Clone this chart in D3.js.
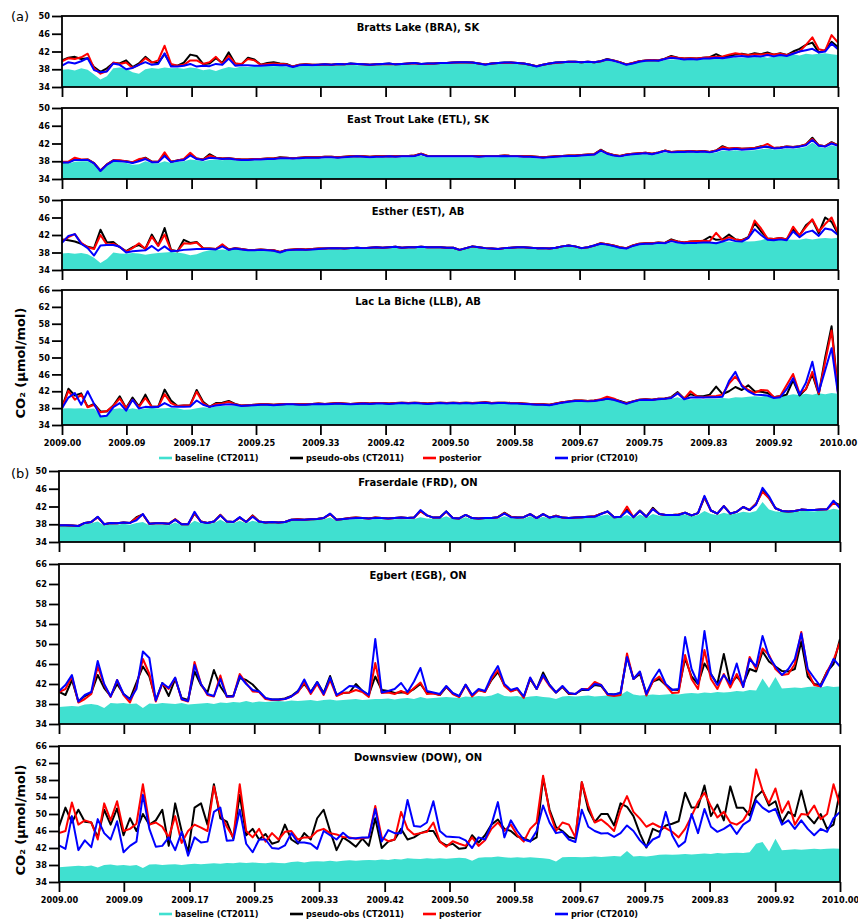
<!DOCTYPE html>
<html>
<head>
<meta charset="utf-8">
<script src="https://cdn.jsdelivr.net/npm/d3@7"></script>
<style>
  body { margin: 0; background: #fff; }
  svg { display: block; }
</style>
</head>
<body>
<svg id="chart" width="858" height="921"></svg>
<script>
// ---- Axis ticks and labels ----
const tickYears = [2009.000, 2009.083, 2009.167, 2009.250, 2009.333, 2009.417, 2009.500,
                   2009.583, 2009.667, 2009.750, 2009.833, 2009.917, 2010.000];
const tickYearLabels = ["2009.00", "2009.09", "2009.17", "2009.25", "2009.33", "2009.42", "2009.50",
                        "2009.58", "2009.67", "2009.75", "2009.83", "2009.92", "2010.00"];
const shortTicks = [34, 38, 42, 46, 50];
const tallTicks = [34, 38, 42, 46, 50, 54, 58, 62, 66];

// ---- CO2 series, sampled every ~3 days through 2009 (µmol/mol) ----
// Bratts Lake (BRA)
const braBaseline = [
37.9,38.0,37.7,38.2,37.9,36.8,35.7,36.4,38.2,38.4, 38.1,37.3,37.0,38.0,38.3,38.1,38.4,38.2,38.3,38.1,
38.4,38.2,37.8,38.0,37.6,38.1,38.5,38.3,38.6,38.5, 38.7,38.6,38.8,38.7,38.8,38.6,38.4,38.7,38.8,38.7,
38.8,38.9,38.8,38.9,38.9,39.0,38.9,38.9,38.8,38.9, 39.0,39.0,39.0,39.1,39.1,39.0,39.1,39.0,39.1,39.2,
39.3,39.3,39.4,39.4,39.3,39.1,38.9,39.1,39.2,39.3, 39.3,39.2,39.1,38.9,38.5,38.8,39.1,39.3,39.4,39.5,
39.5,39.4,39.5,39.4,39.6,40.0,39.7,39.3,38.9,39.2, 39.6,39.8,39.9,39.8,40.1,40.2,40.2,40.1,40.3,40.2,
40.4,40.4,40.5,40.4,40.6,40.7,40.6,40.8,40.7,40.9, 40.6,40.9,41.0,41.2,41.4,41.1,41.5,41.3,41.5,41.6,
41.4,41.2];
const braPseudoObs = [
40.0,40.6,40.8,40.3,40.5,38.5,37.4,38.2,39.4,39.3, 40.0,38.5,39.3,40.8,39.6,39.4,41.4,39.0,38.8,39.5,
41.3,41.0,39.2,39.3,40.5,39.4,41.8,39.3,39.1,40.6, 40.2,39.0,39.4,39.6,39.3,39.2,38.6,39.0,39.1,39.0,
39.0,39.1,39.0,39.2,39.1,39.3,39.2,39.1,39.0,39.1, 39.2,39.3,39.1,39.2,39.3,39.4,39.2,39.3,39.3,39.4,
39.4,39.5,39.6,39.6,39.5,39.3,39.1,39.3,39.4,39.5, 39.5,39.4,39.3,39.0,38.7,39.0,39.3,39.5,39.6,39.7,
39.7,39.6,39.7,39.6,39.8,40.3,40.0,39.6,39.1,39.4, 39.8,40.0,40.1,40.0,40.4,41.0,40.6,40.4,40.5,40.4,
40.6,40.7,41.4,40.7,41.0,41.3,41.5,41.2,41.6,41.4, 41.8,41.3,41.6,41.2,42.0,42.6,43.5,44.0,41.8,42.3,
44.2,43.0];
const braPosterior = [
39.8,40.5,40.3,40.7,41.5,38.2,37.0,37.6,39.5,39.2, 39.5,38.3,39.0,40.5,39.5,40.0,43.3,39.2,38.8,39.0,
40.0,40.0,39.2,39.6,40.8,39.2,41.0,39.3,39.2,40.3, 40.0,39.0,39.2,39.3,39.2,39.1,38.6,39.0,39.1,39.0,
39.0,39.1,39.0,39.1,39.1,39.2,39.2,39.1,39.0,39.1, 39.1,39.2,39.1,39.2,39.3,39.3,39.2,39.2,39.3,39.4,
39.4,39.5,39.6,39.5,39.5,39.3,39.1,39.3,39.4,39.4, 39.5,39.4,39.3,39.0,38.7,39.0,39.3,39.4,39.6,39.7,
39.7,39.6,39.7,39.6,39.8,40.2,40.0,39.6,39.1,39.4, 39.8,40.0,40.1,40.0,40.4,40.8,40.6,40.4,40.5,40.4,
40.6,40.7,40.8,40.9,41.3,41.6,41.4,41.2,41.4,41.3, 41.5,41.3,41.5,41.2,41.6,42.0,43.5,45.2,42.5,42.2,
45.7,44.0];
const braPrior = [
38.8,39.6,39.3,39.8,40.5,37.8,37.3,37.5,39.3,39.0, 38.0,38.3,39.0,39.6,39.0,39.2,41.6,38.6,38.6,38.8,
39.2,38.6,38.8,38.7,39.2,39.0,40.4,38.8,38.9,38.9, 38.8,38.8,38.9,39.0,38.9,38.9,38.5,38.9,39.0,38.9,
39.0,39.1,39.0,39.2,39.1,39.3,39.2,39.1,39.0,39.1, 39.2,39.3,39.1,39.2,39.3,39.4,39.2,39.3,39.3,39.4,
39.4,39.5,39.6,39.6,39.5,39.3,39.0,39.3,39.4,39.5, 39.5,39.4,39.3,39.0,38.6,39.0,39.3,39.5,39.6,39.7,
39.7,39.6,39.7,39.6,39.8,40.2,39.9,39.5,39.0,39.3, 39.7,39.9,40.0,39.9,40.3,40.6,40.4,40.2,40.3,40.2,
40.4,40.4,40.6,40.5,40.7,40.9,41.0,40.8,41.0,40.9, 41.2,40.9,41.2,41.0,41.5,42.0,42.3,42.6,41.8,42.0,
43.8,42.5];

// East Trout Lake (ETL)
const etlBaseline = [
37.6,37.5,37.9,38.0,38.0,37.3,35.7,36.9,37.9,37.8, 37.6,37.2,37.3,38.0,37.6,37.5,38.0,37.6,37.9,38.0,
38.4,38.2,38.0,38.3,38.4,38.2,38.4,38.2,38.1,38.1, 38.2,38.2,38.3,38.3,38.5,38.5,38.4,38.5,38.6,38.6,
38.6,38.7,38.7,38.6,38.7,38.8,38.9,38.8,38.7,38.8, 38.8,38.9,38.8,38.9,38.9,39.0,39.3,38.9,38.9,38.9,
38.9,38.9,38.9,38.9,38.9,38.8,38.9,38.9,38.9,39.0, 38.9,38.9,38.8,38.8,38.7,38.6,38.7,38.8,38.9,39.0,
39.0,39.1,39.2,39.3,40.1,39.5,39.1,38.9,39.2,39.4, 39.5,39.6,39.4,39.7,40.0,39.8,39.9,39.9,40.0,39.9,
40.0,39.8,40.0,40.4,40.3,40.5,40.3,40.4,40.5,40.7, 40.9,40.6,40.7,40.9,40.8,41.0,41.2,42.2,41.2,41.0,
41.6,41.2];
const etlPseudoObs = [
37.8,37.8,38.5,38.3,38.4,37.6,35.9,37.3,38.2,38.1, 38.0,37.7,38.3,38.8,37.9,37.9,39.4,37.9,38.2,38.4,
39.5,38.6,38.4,39.6,38.8,38.6,38.7,38.5,38.4,38.4, 38.5,38.5,38.6,38.6,38.9,38.8,38.7,38.8,38.9,38.9,
38.9,39.0,39.0,38.9,39.0,39.1,39.2,39.1,39.0,39.1, 39.1,39.2,39.1,39.2,39.2,39.3,39.7,39.2,39.2,39.2,
39.2,39.2,39.2,39.2,39.2,39.1,39.2,39.2,39.2,39.3, 39.2,39.2,39.1,39.1,39.0,38.9,39.0,39.1,39.2,39.3,
39.3,39.4,39.5,39.6,40.6,39.8,39.4,39.2,39.5,39.7, 39.8,39.9,39.7,40.0,40.4,40.1,40.2,40.2,40.3,40.2,
40.3,40.1,40.4,41.4,40.8,41.0,40.8,40.9,41.0,41.4, 41.2,41.0,41.1,41.3,41.2,41.4,41.8,43.3,41.6,41.4,
42.3,41.6];
const etlPosterior = [
37.9,37.9,38.8,38.4,38.4,37.6,35.9,37.3,38.2,38.2, 38.0,37.8,38.5,38.7,37.9,37.9,40.0,37.9,38.2,38.5,
39.9,38.6,38.4,39.3,38.8,38.6,38.7,38.5,38.4,38.4, 38.5,38.5,38.6,38.6,38.8,38.8,38.7,38.8,38.9,38.9,
38.9,39.0,39.0,38.9,39.0,39.1,39.2,39.1,39.0,39.1, 39.1,39.2,39.1,39.2,39.2,39.3,39.7,39.2,39.2,39.2,
39.2,39.2,39.2,39.2,39.2,39.1,39.2,39.2,39.2,39.3, 39.2,39.2,39.1,39.1,39.0,38.9,39.0,39.1,39.2,39.3,
39.3,39.4,39.5,39.6,40.5,39.8,39.4,39.2,39.5,39.7, 39.8,39.9,39.7,40.0,40.4,40.1,40.2,40.2,40.3,40.2,
40.3,40.1,40.4,41.2,40.9,41.0,40.8,40.9,41.0,41.3, 41.9,41.0,41.1,41.3,41.2,41.4,41.8,43.0,41.6,41.4,
42.2,41.6];
const etlPrior = [
37.7,37.7,38.3,38.3,38.3,37.5,35.8,37.2,38.1,38.0, 37.9,37.6,38.0,38.5,37.8,37.8,39.2,37.8,38.1,38.3,
39.3,38.5,38.3,38.8,38.7,38.5,38.6,38.4,38.3,38.3, 38.4,38.4,38.5,38.5,38.7,38.7,38.6,38.7,38.8,38.8,
38.8,38.9,38.9,38.8,38.9,39.0,39.1,39.0,38.9,39.0, 39.0,39.1,39.0,39.1,39.1,39.2,39.6,39.1,39.1,39.1,
39.1,39.1,39.1,39.1,39.1,39.0,39.1,39.1,39.1,39.2, 39.1,39.1,39.0,39.0,38.9,38.8,38.9,39.0,39.1,39.2,
39.2,39.3,39.4,39.5,40.4,39.7,39.3,39.1,39.4,39.6, 39.7,39.8,39.6,39.9,40.3,40.0,40.1,40.1,40.2,40.1,
40.2,40.0,40.3,40.8,40.6,40.8,40.6,40.7,40.8,41.1, 41.3,40.9,41.0,41.2,41.1,41.3,41.6,42.8,41.5,41.3,
42.0,41.5];

// Esther (EST)
const estBaseline = [
37.8,37.9,37.7,37.9,37.6,36.8,35.6,36.5,38.0,37.8, 37.7,37.9,37.8,37.5,37.7,37.9,38.0,38.1,38.0,37.8,
37.4,37.6,38.2,38.5,38.6,38.7,38.5,38.8,38.6,38.4, 38.4,38.5,38.4,38.3,37.9,38.4,38.5,38.6,38.5,38.6,
38.7,38.7,38.8,38.8,38.7,38.8,38.9,38.8,38.9,39.0, 38.9,39.0,39.1,38.9,39.0,39.0,39.1,39.0,39.0,39.0,
38.9,38.9,38.4,38.8,39.2,39.0,38.8,38.7,38.6,38.8, 38.9,39.0,39.0,38.9,38.8,38.8,38.7,38.9,39.2,39.4,
39.2,38.8,39.0,39.4,39.9,39.7,39.4,39.0,38.8,39.4, 39.8,39.9,39.9,40.0,39.9,40.3,40.1,40.0,40.2,40.2,
40.2,40.3,40.3,40.4,40.5,40.4,40.6,40.5,40.6,40.8, 41.3,41.0,40.9,41.0,40.9,40.9,41.2,41.0,41.2,41.3,
41.2,41.4];
const estPseudoObs = [
41.0,40.8,40.5,40.0,39.3,39.0,43.2,40.3,40.4,39.2, 38.3,39.2,39.7,38.9,42.1,39.6,43.6,38.6,38.3,40.9,
40.2,40.4,39.0,38.9,38.8,39.7,38.7,39.0,38.8,38.6, 38.6,38.7,38.6,38.5,38.1,38.6,38.7,38.8,38.7,38.8,
38.9,38.9,39.0,39.0,38.9,39.0,39.1,39.0,39.1,39.2, 39.1,39.2,39.3,39.1,39.2,39.2,39.3,39.2,39.2,39.2,
39.1,39.1,38.6,39.0,39.4,39.2,39.0,38.9,38.8,39.0, 39.1,39.2,39.2,39.1,39.0,39.0,38.9,39.1,39.4,39.6,
39.4,39.0,39.2,39.6,40.1,39.9,39.6,39.2,39.0,39.6, 40.0,40.1,40.1,40.3,40.2,41.0,40.5,40.3,40.5,40.6,
40.7,41.6,40.9,41.0,42.1,41.0,40.8,41.5,44.7,42.8, 41.2,41.1,41.3,41.0,43.2,41.9,44.2,45.4,42.4,46.0,
45.0,42.2];
const estPosterior = [
40.5,41.5,42.2,40.2,39.2,38.8,42.0,39.8,40.0,39.3, 38.2,39.0,40.1,38.8,41.6,39.5,42.1,38.5,38.3,40.1,
40.0,40.3,39.0,38.9,38.8,39.9,38.7,39.0,38.8,38.6, 38.6,38.7,38.6,38.5,38.1,38.6,38.7,38.8,38.7,38.8,
38.9,38.9,39.0,39.0,38.9,39.0,39.1,39.0,39.1,39.2, 39.1,39.2,39.3,39.1,39.2,39.2,39.3,39.2,39.2,39.2,
39.1,39.1,38.6,39.0,39.4,39.2,39.0,38.9,38.8,39.0, 39.1,39.2,39.2,39.1,39.0,39.0,38.9,39.1,39.4,39.6,
39.4,39.0,39.2,39.6,40.1,39.9,39.6,39.2,39.0,39.6, 40.0,40.1,40.1,40.3,40.2,40.8,40.5,40.3,40.5,40.6,
40.7,40.6,42.5,40.8,41.5,41.0,40.8,41.3,45.3,43.5, 41.2,41.1,41.3,41.0,43.9,41.9,43.8,45.6,42.8,44.5,
46.0,42.5];
const estPrior = [
40.2,41.8,42.2,40.0,39.0,37.3,39.6,39.7,39.7,39.3, 38.0,38.3,38.4,38.5,39.5,38.4,39.4,38.3,38.4,38.6,
38.7,38.8,38.8,38.8,38.7,39.4,38.6,38.9,38.7,38.5, 38.5,38.6,38.5,38.4,38.0,38.5,38.6,38.7,38.6,38.7,
38.8,38.9,39.0,39.0,38.9,39.0,39.1,39.0,39.1,39.2, 39.1,39.2,39.3,39.1,39.2,39.2,39.3,39.2,39.2,39.2,
39.1,39.1,38.6,39.0,39.4,39.2,39.0,38.9,38.8,39.0, 39.1,39.2,39.2,39.1,39.0,39.0,38.9,39.1,39.4,39.6,
39.4,39.0,39.2,39.6,40.0,39.8,39.5,39.1,38.9,39.5, 39.9,40.0,40.0,40.2,40.1,40.6,40.3,40.1,40.2,40.2,
40.3,40.3,40.1,40.5,41.0,40.6,40.5,41.3,43.3,42.0, 40.9,40.8,41.0,40.8,42.8,41.5,42.6,43.0,41.8,43.5,
43.2,42.0];

// Lac La Biche (LLB)
const llbBaseline = [
37.9,38.0,37.9,38.0,37.8,37.9,36.2,36.4,37.8,38.0, 37.6,38.0,37.7,37.9,38.1,37.9,38.0,38.1,38.0,37.6,
37.7,38.0,38.2,38.1,38.4,38.5,38.5,38.6,38.4,38.5, 38.6,38.7,38.7,38.6,38.7,38.8,38.8,38.7,38.7,38.8,
38.9,38.8,38.9,39.0,38.9,38.8,38.9,39.0,38.9,39.0, 39.0,38.9,39.0,39.1,39.0,39.1,39.0,38.9,39.0,39.1,
39.0,39.1,39.0,39.1,39.0,39.1,39.2,39.0,39.1,39.1, 39.0,39.0,38.9,38.8,38.7,38.7,38.6,38.9,39.2,39.4,
39.6,39.6,39.5,39.6,39.8,40.0,39.9,39.4,38.9,39.4, 39.8,39.9,39.8,40.0,40.1,40.2,40.6,40.0,40.1,40.2,
40.1,40.3,40.2,40.4,40.3,40.6,40.5,40.7,40.8,40.7, 41.0,40.9,41.1,41.0,41.3,41.1,41.4,41.2,41.5,41.3,
41.6,41.4];
const llbPseudoObs = [
38.2,42.6,41.0,41.5,38.3,39.0,37.2,37.2,38.6,40.8, 38.0,40.5,38.4,41.2,38.3,38.3,42.4,39.8,38.5,38.6,
38.7,42.3,39.5,38.3,39.2,39.3,39.7,39.0,38.6,38.7, 38.8,38.9,38.9,38.8,38.9,39.0,39.0,38.9,38.9,39.0,
39.1,39.0,39.1,39.2,39.1,39.0,39.1,39.2,39.1,39.2, 39.2,39.1,39.2,39.3,39.2,39.3,39.2,39.1,39.2,39.3,
39.2,39.3,39.2,39.3,39.2,39.3,39.4,39.2,39.3,39.3, 39.2,39.2,39.1,39.0,38.9,38.9,38.8,39.1,39.4,39.6,
39.8,39.8,39.7,39.8,40.0,40.2,40.1,39.7,39.2,39.6, 40.0,40.1,40.0,40.2,40.3,40.6,41.8,40.3,41.3,40.9,
40.8,41.2,43.1,41.3,42.0,43.0,42.3,43.4,42.0,41.9, 41.6,40.6,40.8,41.2,44.6,41.0,42.5,46.0,41.3,50.0,
57.4,41.8];
const llbPosterior = [
38.0,42.1,40.0,41.2,38.2,38.8,37.0,37.3,38.5,40.3, 38.0,40.0,38.3,40.4,38.3,38.3,41.3,39.2,38.5,38.6,
38.7,41.9,39.2,38.3,39.0,39.1,39.5,38.9,38.6,38.7, 38.8,38.9,38.9,38.8,38.9,39.0,39.0,38.9,38.9,39.0,
39.1,39.0,39.1,39.2,39.1,39.0,39.1,39.2,39.1,39.2, 39.2,39.1,39.2,39.3,39.2,39.3,39.2,39.1,39.2,39.3,
39.2,39.3,39.2,39.3,39.2,39.3,39.4,39.2,39.3,39.3, 39.2,39.2,39.1,39.0,38.9,38.9,38.8,39.1,39.4,39.6,
39.8,39.8,39.7,39.8,40.1,40.7,40.3,39.6,39.1,39.6, 40.0,40.1,40.0,40.2,40.3,40.5,41.6,40.2,42.0,40.8,
40.6,40.8,40.9,41.2,43.8,45.5,43.5,42.3,41.6,42.3, 42.2,40.6,40.9,43.5,46.1,41.5,42.5,46.6,41.4,49.0,
56.4,41.8];
const llbPrior = [
38.0,40.5,41.6,38.8,42.0,39.0,36.0,36.2,38.2,39.2, 37.4,40.0,37.9,38.3,38.2,38.3,39.2,38.4,38.3,38.3,
38.4,39.8,38.8,38.3,38.6,38.8,38.9,38.8,38.5,38.6, 38.7,38.8,38.8,38.7,38.8,38.9,38.9,38.8,38.8,38.9,
39.0,38.9,39.0,39.1,39.0,38.9,39.0,39.1,39.0,39.1, 39.1,39.0,39.1,39.2,39.1,39.2,39.1,39.0,39.1,39.2,
39.1,39.2,39.1,39.2,39.1,39.2,39.3,39.1,39.2,39.2, 39.1,39.1,39.0,38.9,38.8,38.8,38.7,39.0,39.3,39.5,
39.7,39.7,39.6,39.7,39.9,40.2,40.0,39.5,39.0,39.5, 39.9,40.0,39.9,40.1,40.2,40.4,41.5,40.1,40.5,40.6,
40.5,40.6,40.6,40.7,44.4,46.6,43.2,42.0,41.2,41.1, 41.0,40.4,40.6,42.5,45.1,41.2,44.0,49.0,41.8,47.0,
52.2,41.4];

// Fraserdale (FRD)
const frdBaseline = [
37.6,37.7,37.5,37.4,38.0,38.2,38.6,37.7,38.0,37.9, 38.1,37.9,38.3,38.5,37.8,37.9,37.9,37.8,38.4,37.8,
37.8,38.8,38.2,38.1,38.3,39.0,38.3,38.2,38.8,38.2, 38.8,38.4,38.2,38.3,38.2,38.3,38.8,38.9,38.8,38.9,
39.0,39.1,39.5,38.8,39.0,39.1,39.2,39.1,39.0,39.2, 39.1,39.0,39.1,39.2,39.1,39.2,39.6,39.3,39.3,39.3,
39.8,39.2,39.1,39.6,39.2,39.1,39.2,39.2,39.3,39.8, 39.4,39.3,39.3,39.8,39.2,39.7,39.3,39.6,39.3,39.2,
39.3,39.4,39.5,39.5,39.9,40.2,39.4,39.5,40.1,39.4, 40.2,39.5,40.3,39.9,39.9,39.9,40.0,40.2,39.8,40.1,
41.0,40.3,40.1,40.6,40.2,40.4,40.8,40.6,41.0,43.0, 41.3,40.9,40.8,40.7,40.8,41.0,41.0,40.9,41.1,41.1,
41.5,41.2];
const frdPseudoObs = [
37.8,37.8,37.7,37.6,38.3,38.5,39.6,38.0,38.3,38.2, 38.4,38.3,39.6,40.2,38.1,38.2,38.2,38.1,39.1,38.0,
38.0,40.4,38.6,38.3,38.6,40.1,38.6,38.5,39.5,38.5, 40.0,38.6,38.4,38.5,38.4,38.5,39.0,39.1,39.0,39.1,
39.2,39.4,40.3,39.0,39.2,39.4,39.5,39.4,39.3,39.5, 39.4,39.3,39.4,39.5,39.4,39.5,41.0,40.0,39.5,39.5,
40.9,39.4,39.3,40.1,39.4,39.3,39.4,39.4,39.6,40.6, 39.7,39.5,39.6,40.3,39.4,40.3,39.5,39.9,39.5,39.4,
39.5,39.6,39.7,39.8,40.4,40.9,39.6,39.7,41.3,39.6, 41.1,39.7,41.7,40.3,40.1,40.1,40.2,40.6,40.0,40.5,
44.0,41.1,40.4,42.1,40.4,40.8,41.9,41.2,42.6,45.6, 43.9,41.6,41.0,40.9,41.0,41.3,41.2,41.2,41.3,41.4,
43.0,42.3];
const frdPosterior = [
37.8,37.8,37.7,37.6,38.3,38.5,39.6,38.0,38.3,38.2, 38.4,38.3,39.4,40.2,38.1,38.2,38.2,38.1,39.1,38.0,
38.0,40.5,38.6,38.3,38.6,40.1,38.6,38.5,39.5,38.5, 39.9,38.6,38.4,38.5,38.4,38.5,39.0,39.1,39.0,39.1,
39.2,39.4,40.3,39.0,39.2,39.4,39.5,39.4,39.3,39.5, 39.4,39.3,39.4,39.5,39.4,39.5,40.9,40.0,39.5,39.5,
40.8,39.4,39.3,40.1,39.4,39.3,39.4,39.4,39.6,40.5, 39.7,39.5,39.6,40.3,39.4,40.3,39.5,39.9,39.5,39.4,
39.5,39.6,39.7,39.8,40.4,40.8,39.6,39.7,42.0,39.6, 41.0,39.7,41.5,40.3,40.1,40.1,40.2,40.6,40.0,40.5,
44.2,41.1,40.4,42.1,40.4,40.8,41.9,41.2,42.6,45.3, 43.9,41.6,41.0,40.9,41.0,41.3,41.2,41.2,41.3,41.4,
42.8,42.1];
const frdPrior = [
37.8,37.8,37.7,37.6,38.3,38.5,39.7,38.0,38.3,38.2, 38.4,38.3,38.9,40.3,38.1,38.2,38.2,38.1,39.0,38.0,
38.0,40.8,38.5,38.3,38.6,40.0,38.6,38.5,39.6,38.5, 39.7,38.6,38.4,38.5,38.4,38.5,39.0,39.0,39.0,39.1,
39.2,39.4,40.4,39.0,39.2,39.3,39.4,39.4,39.3,39.4, 39.4,39.3,39.4,39.5,39.4,39.5,41.2,40.0,39.5,39.5,
40.9,39.4,39.3,40.1,39.4,39.3,39.4,39.4,39.6,40.4, 39.6,39.5,39.6,40.3,39.4,40.3,39.5,39.8,39.5,39.4,
39.5,39.6,39.7,39.7,40.3,40.9,39.6,39.7,41.0,39.6, 41.0,39.7,41.4,40.3,40.1,40.1,40.1,40.6,40.0,40.5,
44.4,41.1,40.4,42.1,40.4,40.8,41.9,41.2,42.4,46.2, 44.3,41.6,41.0,40.9,41.0,41.3,41.2,41.2,41.3,41.4,
43.3,41.6];

// Egbert (EGB)
const egbBaseline = [
37.4,37.5,37.6,37.5,37.9,38.0,37.8,37.2,38.2,38.1, 38.2,38.0,38.1,37.2,38.1,38.0,38.2,38.1,38.0,38.2,
37.9,38.0,38.1,38.2,38.0,38.3,38.2,38.4,38.3,38.6, 38.3,38.5,38.4,38.5,38.6,38.5,38.7,38.6,38.7,38.8,
38.6,38.8,38.9,38.7,38.8,38.9,39.0,38.8,38.9,39.0, 39.0,39.1,38.9,39.1,39.2,39.0,39.4,39.1,39.2,39.3,
39.4,39.3,39.2,39.5,39.4,39.6,39.5,39.7,40.2,39.6, 39.5,39.6,39.3,39.5,39.6,39.4,39.3,39.0,39.5,39.6,
39.5,39.6,39.7,39.5,39.6,39.7,39.8,39.8,40.6,39.9, 39.7,39.8,39.9,39.8,39.9,40.0,39.9,40.1,40.2,40.1,
40.3,40.2,40.4,40.3,40.4,40.6,40.5,40.8,40.7,43.1, 41.2,43.4,41.1,41.2,41.3,41.2,41.4,41.5,41.3,41.6,
41.4,41.5];
const egbPseudoObs = [
40.4,39.8,42.8,38.5,39.6,40.2,43.8,41.2,39.6,42.0, 40.0,39.0,42.3,45.5,43.5,38.8,42.2,39.6,43.0,39.2,
38.8,44.5,41.8,40.3,44.8,41.5,39.6,39.6,43.2,42.8, 41.9,40.5,39.1,38.9,38.9,39.1,39.6,40.6,42.0,40.4,
42.4,40.2,43.6,39.8,40.2,40.3,42.0,40.6,39.8,43.5, 40.8,40.6,40.2,40.3,40.3,41.0,42.0,40.2,40.2,39.8,
41.4,40.1,39.5,41.8,39.7,40.8,40.5,42.8,44.4,41.8, 40.6,41.0,39.4,43.0,41.0,44.3,41.8,40.3,41.4,40.0,
40.0,40.8,40.8,41.8,41.6,40.0,39.9,40.2,47.5,43.0, 44.0,40.1,42.5,43.0,41.8,40.9,40.8,47.1,43.5,42.0,
46.1,44.0,42.0,48.0,42.0,43.5,42.0,45.0,44.5,48.5, 46.5,45.5,44.6,44.5,45.0,50.5,43.5,42.0,41.8,44.5,
46.0,51.0];
const egbPosterior = [
40.4,41.0,43.5,38.3,39.0,40.0,45.5,41.8,39.4,42.8, 39.8,38.3,41.5,47.0,44.0,38.5,42.0,41.0,43.2,38.9,
38.5,46.4,42.0,39.8,39.5,43.7,39.4,39.5,44.0,42.2, 40.5,40.4,39.0,38.8,38.8,39.0,39.5,40.3,42.3,40.0,
42.0,39.8,42.8,39.6,40.2,40.3,40.8,40.4,39.4,46.2, 40.2,40.3,40.0,40.6,40.0,41.2,42.3,40.0,40.1,39.8,
41.5,40.0,39.4,41.8,39.5,40.8,40.4,43.0,44.8,41.6, 40.5,41.0,39.2,43.2,41.0,43.5,41.6,40.3,41.5,40.1,
40.0,41.0,41.0,42.4,41.8,39.8,39.6,39.8,48.1,43.0, 44.4,39.7,42.5,43.5,41.8,40.2,40.3,47.8,43.0,41.0,
48.8,43.0,41.0,44.0,41.3,44.0,41.4,47.4,45.0,49.1, 47.8,45.0,43.8,44.0,46.0,52.4,44.5,41.8,41.5,44.5,
46.8,50.4];
const egbPrior = [
40.6,41.8,43.8,38.5,39.8,40.4,46.6,42.0,39.5,42.8, 40.0,38.9,41.0,48.5,47.2,38.7,42.2,41.2,43.3,39.0,
38.6,45.8,42.0,40.0,39.6,43.0,39.5,39.5,43.6,42.0, 40.8,40.5,39.2,38.9,38.9,39.0,39.5,40.5,42.9,40.3,
42.4,40.0,43.3,39.8,40.6,41.6,41.5,40.7,39.8,51.0, 40.3,40.6,41.0,42.2,40.4,42.5,45.2,40.6,40.3,40.0,
41.6,40.2,39.6,41.9,39.8,41.0,40.6,43.5,45.6,42.0, 40.8,41.2,39.5,43.3,41.0,43.8,41.8,40.3,41.6,40.2,
40.0,41.0,40.8,42.0,41.8,40.0,39.9,40.2,47.4,43.0, 44.5,40.0,42.9,44.9,42.0,40.8,41.0,51.4,45.0,42.1,
52.6,44.0,41.8,43.8,42.0,46.1,41.4,47.0,45.5,51.6, 47.5,45.5,43.8,45.0,47.0,52.1,45.0,43.2,41.5,44.0,
47.0,45.5];

// Downsview (DOW)
const dowBaseline = [
37.5,37.6,37.7,37.8,37.7,37.9,37.4,38.0,38.1,37.9, 38.0,37.8,38.0,37.3,38.1,38.2,38.0,38.1,38.2,38.0,
38.2,38.3,38.2,38.3,38.4,38.3,38.5,38.4,38.6,38.5, 38.6,38.5,38.4,38.6,38.5,38.4,38.7,38.8,38.6,38.8,
38.9,38.8,39.0,38.8,39.0,39.1,39.0,39.1,39.2,39.1, 39.3,39.2,39.4,39.3,39.6,39.5,39.4,39.6,39.5,39.6,
39.5,39.6,39.7,39.6,39.0,39.7,39.8,39.8,40.0,39.8, 39.7,39.8,39.7,39.8,39.7,39.6,39.4,38.8,39.8,39.9,
39.9,39.8,39.9,40.0,39.9,40.0,40.1,40.0,41.3,40.0, 40.1,40.0,40.2,40.4,40.5,40.4,40.5,40.6,40.5,40.6,
40.7,40.6,40.8,40.7,40.8,40.9,40.8,41.0,43.0,43.4, 41.2,44.2,41.5,41.6,41.7,41.6,41.7,41.8,41.7,41.8,
41.9,41.8];
const dowPseudoObs = [
47.0,51.5,48.0,51.0,48.2,48.0,44.5,51.0,47.5,51.3, 45.0,49.0,46.0,50.0,47.5,48.5,51.0,42.5,52.5,46.0,
41.0,51.5,52.5,47.5,57.0,49.0,48.2,44.2,54.5,45.0, 46.5,44.0,45.3,43.0,43.5,47.5,44.0,43.0,45.5,44.0,
49.0,51.0,46.0,41.5,44.5,43.5,42.3,44.2,42.5,49.0, 42.0,43.5,44.0,46.5,44.0,44.5,45.5,46.0,46.0,43.5,
42.6,43.0,41.8,42.0,45.0,43.3,45.0,47.5,48.7,46.5, 46.0,44.7,44.3,43.6,44.5,58.5,51.0,46.9,46.0,44.6,
44.2,57.5,51.0,48.1,50.0,50.0,47.3,52.5,51.7,49.5, 45.4,42.1,46.5,45.8,47.3,47.7,48.3,55.0,51.5,51.6,
56.7,49.5,52.2,48.5,56.5,51.5,51.5,49.7,54.0,55.5, 52.0,53.0,48.0,50.5,49.5,55.5,49.5,47.8,50.0,46.5,
47.5,55.5];
const dowPosterior = [
45.5,46.0,52.7,47.5,48.5,48.0,44.0,52.5,48.5,53.0, 46.0,46.5,47.7,57.0,47.5,48.0,47.0,44.5,49.5,43.2,
46.0,47.5,46.8,46.0,56.5,50.0,47.0,44.5,57.0,46.0, 44.5,46.5,43.5,45.5,44.0,45.8,46.0,44.0,44.5,44.5,
46.0,46.5,45.5,45.2,44.6,44.5,44.2,44.3,44.5,51.9, 44.5,43.6,44.0,50.5,46.5,45.2,45.5,45.8,48.0,43.5,
42.3,43.6,43.0,42.5,44.5,42.5,43.8,46.5,48.0,46.0, 47.5,45.0,43.5,46.5,48.0,59.0,50.5,46.0,48.0,47.5,
44.5,57.5,52.0,48.0,48.7,47.5,46.0,51.0,54.2,50.5, 48.9,47.0,47.8,47.0,46.7,45.8,44.5,46.5,49.5,52.8,
55.0,51.8,49.2,50.5,48.0,47.5,48.5,51.0,60.5,55.5, 52.5,56.0,50.3,53.0,47.5,50.0,49.8,52.0,48.8,50.0,
57.0,52.0];
const dowPrior = [
42.6,41.8,49.5,41.5,43.8,42.2,48.8,45.5,44.0,48.3, 41.0,42.5,43.5,54.5,46.5,42.3,42.5,44.5,41.5,45.8,
40.2,44.5,43.3,43.5,50.5,51.5,43.7,43.8,51.0,43.0, 41.0,44.0,44.0,42.0,41.8,42.6,45.5,43.3,43.3,43.0,
41.8,46.0,45.0,44.0,45.6,44.3,44.3,44.5,44.5,51.2, 43.5,46.2,45.5,45.5,53.3,47.2,47.0,48.0,53.0,46.0,
44.7,44.6,44.5,43.8,42.0,44.5,44.0,47.5,52.8,44.5, 48.5,46.0,44.0,43.5,46.0,52.0,48.0,45.5,45.8,44.0,
43.4,51.0,47.0,46.0,45.4,45.5,44.6,45.5,47.3,46.0, 43.8,42.3,44.0,44.7,50.5,45.0,42.3,43.5,50.0,45.5,
51.2,47.0,45.8,46.5,47.5,45.3,47.5,48.5,53.2,51.5, 50.5,51.2,47.5,48.5,46.5,48.5,46.5,45.0,46.5,45.8,
49.0,50.5];

// ---- Layout ----
const FONT = '"DejaVu Sans", Verdana, sans-serif';
const TURQ = "#40E0D0";
const svg = d3.select("#chart");
const defs = svg.append("defs");

const stations = [
  { title: "Bratts Lake (BRA), SK", base: braBaseline, obs: braPseudoObs, post: braPosterior, prior: braPrior,
    ticks: shortTicks, top: 16, bottom: 87, left: 62, right: 838, labels: false },
  { title: "East Trout Lake (ETL), SK", base: etlBaseline, obs: etlPseudoObs, post: etlPosterior, prior: etlPrior,
    ticks: shortTicks, top: 108, bottom: 179, left: 62, right: 838, labels: false },
  { title: "Esther (EST), AB", base: estBaseline, obs: estPseudoObs, post: estPosterior, prior: estPrior,
    ticks: shortTicks, top: 200, bottom: 270, left: 62, right: 838, labels: false },
  { title: "Lac La Biche (LLB), AB", base: llbBaseline, obs: llbPseudoObs, post: llbPosterior, prior: llbPrior,
    ticks: tallTicks, top: 290, bottom: 425, left: 62, right: 838, labels: true },
  { title: "Fraserdale (FRD), ON", base: frdBaseline, obs: frdPseudoObs, post: frdPosterior, prior: frdPrior,
    ticks: shortTicks, top: 471, bottom: 542, left: 59, right: 840, labels: false },
  { title: "Egbert (EGB), ON", base: egbBaseline, obs: egbPseudoObs, post: egbPosterior, prior: egbPrior,
    ticks: tallTicks, top: 564, bottom: 724, left: 59, right: 840, labels: false },
  { title: "Downsview (DOW), ON", base: dowBaseline, obs: dowPseudoObs, post: dowPosterior, prior: dowPrior,
    ticks: tallTicks, top: 746, bottom: 882, left: 59, right: 840, labels: true }
];

// sample index -> decimal year (samples evenly spread over 2009)
const yearOf = (i, n) => 2009 + i / (n - 1);

function styleAxis(sel) {
  sel.select(".domain").remove();
  sel.selectAll(".tick line").attr("stroke", "#000").attr("stroke-width", 1.8);
  sel.selectAll(".tick text")
    .attr("font-family", FONT).attr("font-weight", "bold")
    .attr("font-size", 8.2).attr("fill", "#000");
}

stations.forEach((s, k) => {
  const yMax = s.ticks[s.ticks.length - 1];
  const x = d3.scaleLinear().domain([2009, 2010]).range([s.left, s.right]);
  const y = d3.scaleLinear().domain([34, yMax]).range([s.bottom, s.top]);
  const g = svg.append("g");

  const clipId = "plot-clip-" + k;
  defs.append("clipPath").attr("id", clipId).append("rect")
    .attr("x", s.left).attr("y", s.top)
    .attr("width", s.right - s.left).attr("height", s.bottom - s.top);
  const plot = g.append("g").attr("clip-path", `url(#${clipId})`);

  // baseline as filled area
  plot.append("path").datum(s.base)
    .attr("fill", TURQ)
    .attr("d", d3.area()
      .x((d, i, arr) => x(yearOf(i, s.base.length)))
      .y0(y(34)).y1(d => y(d)));

  // pseudo-obs, posterior, prior lines
  [[s.obs, "#000000"], [s.post, "#ff0000"], [s.prior, "#0000ff"]].forEach(([series, color]) => {
    plot.append("path").datum(series)
      .attr("fill", "none").attr("stroke", color)
      .attr("stroke-width", 2).attr("stroke-linejoin", "round")
      .attr("d", d3.line()
        .x((d, i) => x(yearOf(i, series.length)))
        .y(d => y(d)));
  });

  // axes
  const ya = g.append("g").attr("transform", `translate(${s.left},0)`)
    .call(d3.axisLeft(y).tickValues(s.ticks).tickSize(10).tickPadding(2).tickFormat(d3.format("d")));
  styleAxis(ya);

  const xa = g.append("g").attr("transform", `translate(0,${s.bottom})`)
    .call(d3.axisBottom(x).tickValues(tickYears).tickSize(10).tickPadding(5)
      .tickFormat((d, i) => s.labels ? tickYearLabels[i] : ""));
  styleAxis(xa);

  // frame
  g.append("rect")
    .attr("x", s.left).attr("y", s.top)
    .attr("width", s.right - s.left).attr("height", s.bottom - s.top)
    .attr("fill", "none").attr("stroke", "#000").attr("stroke-width", 1.8);

  // station title
  g.append("text")
    .attr("x", 418).attr("y", s.top + 14.5)
    .attr("text-anchor", "middle")
    .attr("font-family", FONT).attr("font-weight", "bold").attr("font-size", 10)
    .text(s.title);
});

// ---- Legends ----
const legendItems = [
  { label: "baseline (CT2011)", color: TURQ, x: 159 },
  { label: "pseudo-obs (CT2011)", color: "#000000", x: 290 },
  { label: "posterior", color: "#ff0000", x: 423 },
  { label: "prior (CT2010)", color: "#0000ff", x: 555 }
];
[458, 914].forEach(cy => {
  const lg = svg.append("g");
  legendItems.forEach(it => {
    lg.append("line")
      .attr("x1", it.x).attr("x2", it.x + 13)
      .attr("y1", cy).attr("y2", cy)
      .attr("stroke", it.color).attr("stroke-width", 2.6);
    lg.append("text")
      .attr("x", it.x + 16).attr("y", cy + 3)
      .attr("font-family", FONT).attr("font-weight", "bold").attr("font-size", 8.2)
      .text(it.label);
  });
});

// ---- Group labels ----
[["(a)", 11, 21], ["(b)", 11, 478]].forEach(([t, px, py]) => {
  svg.append("text").attr("x", px).attr("y", py)
    .attr("font-family", FONT).attr("font-size", 13).text(t);
});

// ---- Y-axis titles ----
[[25, 363], [25, 820]].forEach(([px, py]) => {
  svg.append("text")
    .attr("transform", `translate(${px},${py}) rotate(-90)`)
    .attr("text-anchor", "middle")
    .attr("font-family", FONT).attr("font-weight", "bold").attr("font-size", 13)
    .text("CO\u2082 (\u03bcmol/mol)");
});
</script>
</body>
</html>
